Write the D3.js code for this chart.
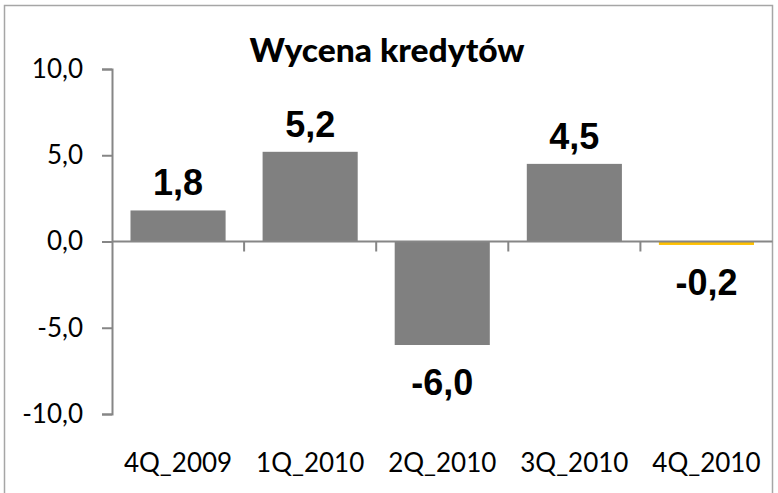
<!DOCTYPE html>
<html>
<head>
<meta charset="utf-8">
<script src="https://cdn.jsdelivr.net/npm/d3@7"></script>
<style>
  body { margin: 0; background: #fff; }
  text { font-family: Lato, "Open Sans", sans-serif; }
</style>
</head>
<body>
<svg id="chart"></svg>
<script>
// data
const categories = ["4Q_2009", "1Q_2010", "2Q_2010", "3Q_2010", "4Q_2010"];
const values = [1.8, 5.2, -6.0, 4.5, -0.2];
const labels = ["1,8", "5,2", "-6,0", "4,5", "-0,2"];
const yTicks = [-10, -5, 0, 5, 10];
const title = "Wycena kredytów";

const width = 778, height = 493;
const margin = { top: 69, right: 5.5, bottom: 79, left: 112 };

const svg = d3.select("#chart")
  .attr("width", width)
  .attr("height", height);

// outer frame
svg.append("rect")
  .attr("x", 4.5).attr("y", 5.5)
  .attr("width", 768).attr("height", 520)
  .attr("fill", "none")
  .attr("stroke", "#a6a6a6")
  .attr("stroke-width", 1.5);

const x = d3.scaleBand()
  .domain(categories)
  .range([margin.left, width - margin.right])
  .paddingInner(0.28)
  .paddingOuter(0.14);

const y = d3.scaleLinear()
  .domain([-10, 10])
  .range([height - margin.bottom, margin.top]);

// y axis
const yAxis = svg.append("g")
  .attr("transform", `translate(${margin.left},0)`)
  .call(d3.axisLeft(y).tickValues(yTicks).tickSize(10).tickPadding(19)
    .tickFormat(d => d3.format(".1f")(d).replace(".", ",").replace("\u2212", "-")));
yAxis.select(".domain").attr("stroke", "#868686").attr("stroke-width", 2);
yAxis.selectAll(".tick line").attr("stroke", "#868686").attr("stroke-width", 2);
yAxis.selectAll(".tick text")
  .attr("fill", "#000")
  .style("font-size", "26px")
  .style("font-family", "Lato, sans-serif");

// bars
svg.selectAll("rect.bar")
  .data(values)
  .enter()
  .append("rect")
  .attr("class", "bar")
  .attr("x", (d, i) => x(categories[i]))
  .attr("width", x.bandwidth())
  .attr("y", d => y(Math.max(0, d)))
  .attr("height", d => Math.abs(y(d) - y(0)))
  .attr("fill", (d, i) => i === values.length - 1 ? "#ffc000" : "#808080");

// x axis line at zero
const step = x.step();
svg.append("line")
  .attr("x1", margin.left).attr("x2", width - margin.right)
  .attr("y1", y(0)).attr("y2", y(0))
  .attr("stroke", "#868686").attr("stroke-width", 2);

// category boundary ticks
svg.selectAll("line.xtick")
  .data(categories.slice(1))
  .enter()
  .append("line")
  .attr("class", "xtick")
  .attr("x1", d => x(d) - x.paddingInner() * step / 2)
  .attr("x2", d => x(d) - x.paddingInner() * step / 2)
  .attr("y1", y(0)).attr("y2", y(0) + 10)
  .attr("stroke", "#868686").attr("stroke-width", 2);

// category labels
svg.selectAll("text.cat")
  .data(categories)
  .enter()
  .append("text")
  .attr("class", "cat")
  .attr("x", d => x(d) + x.bandwidth() / 2)
  .attr("y", 472)
  .attr("text-anchor", "middle")
  .style("font-size", "26px")
  .text(d => d);

// value labels
svg.selectAll("text.val")
  .data(values)
  .enter()
  .append("text")
  .attr("class", "val")
  .attr("x", (d, i) => x(categories[i]) + x.bandwidth() / 2)
  .attr("y", d => d >= 0 ? y(d) - 15 : y(d) + 50)
  .attr("text-anchor", "middle")
  .style("font-family", "'Liberation Sans', Arial, sans-serif")
  .style("font-weight", "bold")
  .style("font-size", "36px")
  .text((d, i) => labels[i]);

// title
svg.append("text")
  .attr("x", 387)
  .attr("y", 62)
  .attr("text-anchor", "middle")
  .attr("textLength", 275)
  .attr("lengthAdjust", "spacingAndGlyphs")
  .style("font-weight", "900")
  .style("font-size", "33px")
  .text(title);
</script>
</body>
</html>
